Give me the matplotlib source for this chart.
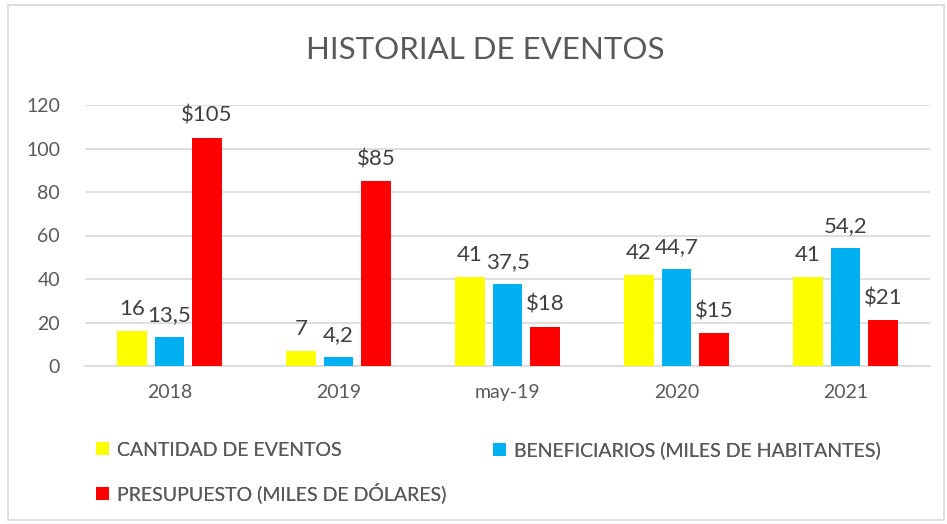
import matplotlib
matplotlib.use("Agg")
import matplotlib.pyplot as plt
from matplotlib.patches import Rectangle
import numpy as np

categories = ["2018", "2019", "may-19", "2020", "2021"]
cantidad = [16, 7, 41, 42, 41]
beneficiarios = [13.5, 4.2, 37.5, 44.7, 54.2]
presupuesto = [105, 85, 18, 15, 21]
series_names = ["CANTIDAD DE EVENTOS", "BENEFICIARIOS (MILES DE HABITANTES)",
                "PRESUPUESTO (MILES DE DÓLARES)"]
colors = ["#FFFF00", "#00B0F0", "#FF0000"]

plt.rcParams['font.family'] = ['Lato', 'DejaVu Sans']
txt = "#595959"

fig = plt.figure(figsize=(9.47, 5.24), dpi=100)
fig.patches.append(Rectangle((8/947, 1-520/524), 936/947, 515/524, transform=fig.transFigure,
                             fill=False, edgecolor="#D9D9D9", linewidth=1.2))
ax = fig.add_axes([85/947, 1-366/524, 845/947, 261/524])

x = np.arange(len(categories))
w = 0.176
off = 0.222

def fmt(v):
    s = f"{v:g}"
    return s.replace(".", ",")

handles = []
for i, (vals, c, name) in enumerate(zip([cantidad, beneficiarios, presupuesto], colors, series_names)):
    bars = ax.bar(x + (i - 1) * off, vals, w, color=c, label=name, zorder=3)
    handles.append(bars)
    for b, v in zip(bars, vals):
        lab = f"${fmt(v)}" if i == 2 else fmt(v)
        ax.text(b.get_x() + b.get_width() / 2, v + 5.5, lab, ha="center", va="bottom",
                fontsize=16, color="#404040")

ax.set_xlim(-0.5, len(categories) - 0.5)
ax.set_ylim(0, 120)
ax.set_yticks(range(0, 121, 20))
ax.set_xticks(x)
ax.set_xticklabels(categories)
ax.tick_params(axis="both", length=0, labelsize=14, colors=txt)
ax.tick_params(axis="y", pad=18)
ax.tick_params(axis="x", pad=13)
ax.grid(axis="y", color="#D9D9D9", linewidth=1.2, zorder=0)
for s in ["top", "right", "left"]:
    ax.spines[s].set_visible(False)
ax.spines["bottom"].set_color("#D9D9D9")
ax.spines["bottom"].set_linewidth(1.2)

fig.text(485/947, 1-50/524, "HISTORIAL DE EVENTOS", ha="center", va="center",
         fontsize=22.5, color=txt)

positions = [(96, 450), (493, 450), (96, 493)]
for h, name, (px, py) in zip(handles, series_names, positions):
    leg = fig.legend([h], [name], loc="center left", bbox_to_anchor=(px/947, 1-py/524),
                     frameon=False, fontsize=14, handlelength=0.65, handleheight=0.65,
                     handletextpad=0.45, borderpad=0, borderaxespad=0)
    for t in leg.get_texts():
        t.set_color(txt)
    fig.add_artist(leg)

fig.savefig("out.png", dpi=100)
